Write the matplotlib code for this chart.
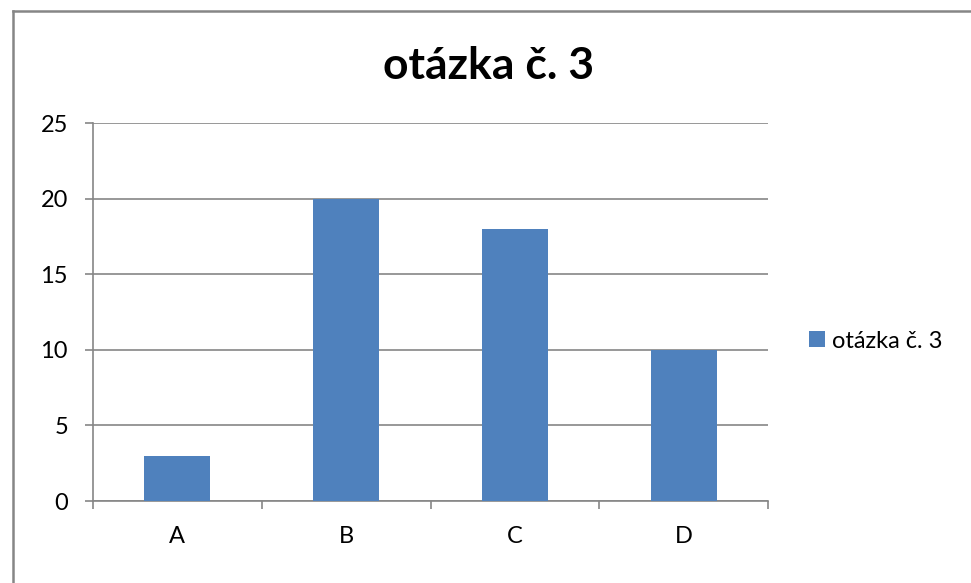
import matplotlib.pyplot as plt
from matplotlib.lines import Line2D

plt.rcParams['font.family'] = ['Lato', 'DejaVu Sans']

# Data
categories = ['A', 'B', 'C', 'D']
values = [3, 20, 18, 10]
series_name = 'otázka č. 3'
yticks = [0, 5, 10, 15, 20, 25]

bar_color = '#4F81BD'
axis_color = '#868686'

fig = plt.figure(figsize=(9.71, 5.83), dpi=100)
ax = fig.add_axes([93 / 971, 1 - 501 / 583, 675 / 971, 378 / 583])

x = range(len(categories))
ax.bar(x, values, width=0.39, color=bar_color, label=series_name, zorder=3)

ax.set_xlim(-0.5, len(categories) - 0.5)
ax.set_ylim(0, 25)
ax.set_yticks(yticks)
ax.set_yticklabels([str(v) for v in yticks], fontsize=17)
ax.yaxis.grid(True, color=axis_color, linewidth=1.2, zorder=0)

# category labels without ticks, ticks at the boundaries
ax.set_xticks(list(x))
ax.set_xticklabels(categories, fontsize=17)
ax.tick_params(axis='x', length=0, pad=18)
ax.set_xticks([i - 0.5 for i in range(len(categories) + 1)], minor=True)
ax.tick_params(axis='x', which='minor', length=6, width=1.2, color=axis_color, direction='out')
ax.tick_params(axis='y', length=6, width=1.2, color=axis_color, pad=12)

for side in ['top', 'right']:
    ax.spines[side].set_visible(False)
for side in ['left', 'bottom']:
    ax.spines[side].set_color(axis_color)
    ax.spines[side].set_linewidth(1.2)

fig.text(0.5 + 3 / 971, 1 - 66 / 583, series_name, fontsize=32, fontweight='bold',
         ha='center', va='center')

ax.legend(loc='center left', bbox_to_anchor=((800 - 93) / 675, (501 - 341) / 378),
          frameon=False, fontsize=17, handlelength=0.65, handleheight=0.65,
          handletextpad=0.3, borderaxespad=0)

# chart border (only top and left visible in the crop)
fig.add_artist(Line2D([13 / 971, 13 / 971], [0, 1 - 11 / 583], transform=fig.transFigure,
                      color=axis_color, linewidth=1.8))
fig.add_artist(Line2D([13 / 971, 1], [1 - 11 / 583, 1 - 11 / 583], transform=fig.transFigure,
                      color=axis_color, linewidth=1.8))

fig.savefig('out.png', dpi=100)
